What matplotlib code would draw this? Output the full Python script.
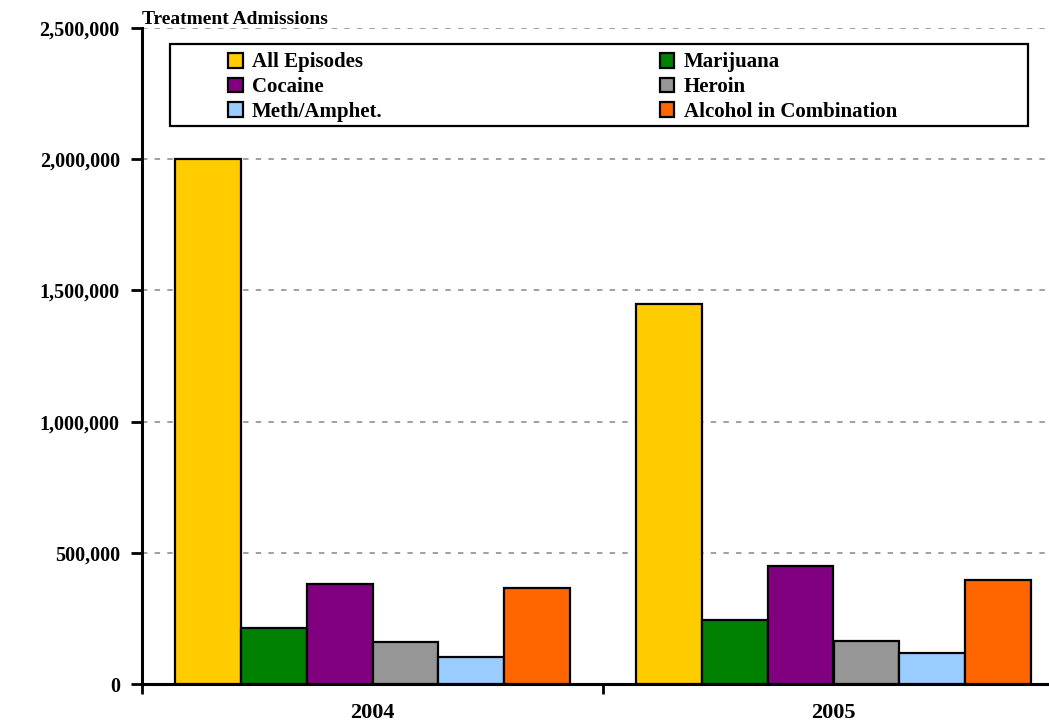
import numpy as np
import matplotlib
matplotlib.use('Agg')
import matplotlib.pyplot as plt
from matplotlib.patches import Rectangle
from matplotlib.ticker import FuncFormatter

years = ['2004', '2005']
series = ['All Episodes', 'Marijuana', 'Cocaine', 'Heroin', 'Meth/Amphet.', 'Alcohol in Combination']
all_episodes = [2000000, 1450000]
marijuana = [214000, 245000]
cocaine = [380000, 451000]
heroin = [159000, 165000]
meth = [102000, 118000]
alcohol = [364000, 397000]
colors = ['#FFCC00', '#008000', '#800080', '#969696', '#99CCFF', '#FF6600']

plt.rcParams['font.family'] = 'Liberation Serif'
plt.rcParams['font.weight'] = 'bold'

fig = plt.figure(figsize=(10.49, 7.23), dpi=100)
ax = fig.add_axes([142/1049, 1-684/723, 922/1049, 656/723])

values = [all_episodes, marijuana, cocaine, heroin, meth, alcohol]
x = np.arange(len(years))
w = 0.1425
bars = []
for i, (name, vals) in enumerate(zip(series, values)):
    b = ax.bar(x + (i - 2.5) * w, vals, w, color=colors[i], edgecolor='black',
               linewidth=1.6, label=name, zorder=3)
    bars.append(b)

ax.set_xlim(-0.5, 1.5)
ax.set_ylim(0, 2500000)
ax.set_yticks(np.arange(0, 2500001, 500000))
ax.yaxis.set_major_formatter(FuncFormatter(lambda v, p: f'{int(v):,}'))
ax.grid(axis='y', color='#999999', linestyle=(0, (3, 4)), linewidth=1.3, zorder=0)

ax.set_xticks([-0.5, 0.5, 1.5])
ax.set_xticklabels([])
ax.set_xticks(x, minor=True)
ax.set_xticklabels(years, minor=True)
ax.tick_params(axis='x', which='minor', length=0, pad=14, labelsize=16)
ax.tick_params(axis='x', which='major', direction='out', length=7, width=2)
ax.tick_params(axis='y', direction='out', length=8, width=2, labelsize=14.5, pad=8)

for s in ['top', 'right']:
    ax.spines[s].set_visible(False)
for s in ['left', 'bottom']:
    ax.spines[s].set_linewidth(2.2)

ax.text(0.0, 1 + 4/656, 'Treatment Admissions', transform=ax.transAxes, fontsize=14,
        fontweight='bold', va='baseline', ha='left')

# legend frame
fig.patches.append(Rectangle((170/1049, 1-126/723), 858/1049, 82/723,
                             transform=fig.transFigure, facecolor='white',
                             edgecolor='black', linewidth=1.6, zorder=5))

order = [0, 2, 4, 1, 3, 5]
leg = fig.legend([bars[i] for i in order], [series[i] for i in order],
                 loc='upper left', bbox_to_anchor=(228/1049, 1-52.5/723),
                 ncol=2, frameon=False, prop={'weight': 'bold', 'size': 15},
                 handlelength=0.7, handleheight=0.7, handletextpad=0.45,
                 labelspacing=0.22, columnspacing=13.3, borderpad=0, borderaxespad=0)
leg.set_zorder(6)

plt.savefig('out.png', dpi=100)
